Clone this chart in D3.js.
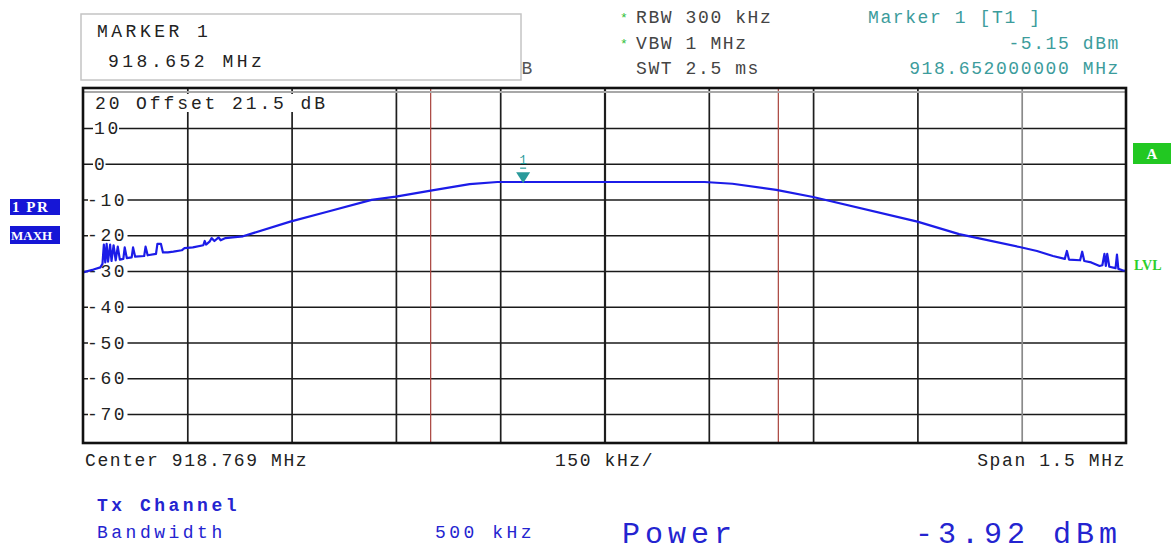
<!DOCTYPE html>
<html>
<head>
<meta charset="utf-8">
<script src="https://cdn.jsdelivr.net/npm/d3@7"></script>
<style>
  body { margin: 0; background: #fff; }
  text { font-family: "Liberation Mono", "DejaVu Sans Mono", monospace; }
</style>
</head>
<body>
<div id="chart"></div>
<script>
// spectrum trace, offsets from center in kHz
const centerMHz = 918.769;
const freqOffsetsKHz = [-750,-735,-725,-722,-720,-718,-716,-714,-711,-709,-706,-703,-700,-697,-692,
  -690,-687,-680,-678,-675,-662,-660,-657,-645,-643,-638,-635,-628,-620,-608,-604,-592,-577,-575,-573,
  -568,-565,-561,-555,-552,-545,-535,-520,-452,-400,-335,-300,-250,-194,-154,-100,-50,0,50,100,
  144,184,247,300,450,510,597,622,645,662,665,668,684,687,690,700,712,716,719,721,723,726,735,737,739,745,750];
const levelsDbm = [-30.4,-29.6,-29.0,-28.0,-22.6,-27.6,-22.4,-27.4,-22.6,-27.2,-22.8,-27.0,-23.2,-26.8,-26.6,
  -23.4,-26.4,-26.2,-23.4,-26.0,-25.8,-23.2,-25.6,-25.2,-22.4,-22.4,-24.8,-24.8,-24.6,-24.2,-23.6,-23.4,-22.8,-21.6,-22.6,
  -21.8,-20.8,-21.6,-20.6,-21.4,-20.8,-20.6,-20.3,-16.2,-13.5,-10.1,-9.2,-7.5,-5.7,-5.1,-5.1,-5.1,-5.1,-5.1,-5.1,
  -5.1,-5.6,-7.3,-9.3,-16.2,-19.7,-23.3,-24.4,-25.8,-26.6,-24.4,-26.8,-27.0,-24.6,-27.2,-27.6,-28.6,-28.4,-25.2,-28.6,-25.2,-28.8,-29.2,-25.4,-29.4,-29.8,-30.0];
const yTicks = [10, 0, -10, -20, -30, -40, -50, -60, -70];
const xGridKHz = [-600, -450, -300, -150, 0, 150, 300, 450, 600];
const channelEdgesKHz = [-250, 250];
const markerMHz = 918.652;
const markerDbm = -5.15;

const W = 1171, H = 553;
const plot = {left: 83, right: 1126, top: 88, bottom: 443};

const svg = d3.select('#chart').append('svg')
  .attr('width', W).attr('height', H);

const x = d3.scaleLinear().domain([-750, 750]).range([plot.left, plot.right]);
const y = d3.scaleLinear().domain([10, -70]).range([128, 414]);

const data = freqOffsetsKHz.map((f, i) => ({f, v: levelsDbm[i]}));

// grid
svg.append('g')
  .attr('transform', `translate(${plot.left},0)`)
  .call(d3.axisLeft(y).tickValues(yTicks).tickSize(-(plot.right - plot.left)).tickFormat(''))
  .call(g => g.select('.domain').remove())
  .call(g => g.selectAll('line').attr('stroke', '#1a1a1a').attr('stroke-width', 1.6));

svg.append('g')
  .attr('transform', `translate(0,${plot.bottom})`)
  .call(d3.axisBottom(x).tickValues(xGridKHz).tickSize(-(plot.bottom - plot.top)).tickFormat(''))
  .call(g => g.select('.domain').remove())
  .call(g => g.selectAll('line')
    .attr('stroke', d => d === 600 ? '#8a8a8a' : '#1e1e1e')
    .attr('stroke-width', d => d === 0 ? 2.2 : 1.7));

// channel limits
svg.selectAll('.chan').data(channelEdgesKHz).join('line')
  .attr('x1', d => x(d)).attr('x2', d => x(d))
  .attr('y1', plot.top).attr('y2', plot.bottom)
  .attr('stroke', '#a8413a').attr('stroke-width', 1.2);

// y labels with white gap in the grid line
const lab = svg.append('g').selectAll('g').data(yTicks).join('g');
lab.append('rect')
  .attr('x', d => d < 0 ? 88 : 93).attr('y', d => y(d) - 8)
  .attr('width', d => String(d).length * 13.5 - 1).attr('height', 16)
  .attr('fill', '#fff');
lab.append('text')
  .attr('x', d => d < 0 ? 87 : 94).attr('y', d => y(d) + 6)
  .style('font-size', '18px').style('letter-spacing', '2.6px')
  .attr('fill', '#222')
  .text(d => d);

// top label inside plot
svg.append('rect').attr('x', 90).attr('y', 94).attr('width', 240).attr('height', 18).attr('fill', '#fff');
svg.append('text').attr('x', 95).attr('y', 109)
  .style('font-size', '18px').style('letter-spacing', '2.9px').attr('fill', '#222')
  .text('20 Offset 21.5 dB');

// trace
const line = d3.line().x(d => x(d.f)).y(d => y(d.v));
svg.append('path').datum(data)
  .attr('d', line)
  .attr('fill', 'none')
  .attr('stroke', '#1c1ce8')
  .attr('stroke-width', 2.2)
  .attr('stroke-linejoin', 'round');

// marker
const mx = x((markerMHz - centerMHz) * 1000), my = y(markerDbm);
svg.append('path')
  .attr('d', `M${mx - 7},${my - 10}L${mx + 7},${my - 10}L${mx},${my + 1}Z`)
  .attr('fill', '#2a9a9a');
svg.append('text').attr('x', mx).attr('y', my - 18).attr('text-anchor', 'middle')
  .style('font-size', '12px').attr('fill', '#2a9a9a').text('1');
svg.append('line').attr('x1', mx - 3).attr('x2', mx + 3).attr('y1', my - 14).attr('y2', my - 14)
  .attr('stroke', '#2a9a9a').attr('stroke-width', 1.2);

// frame
svg.append('line').attr('x1', plot.left).attr('x2', plot.right).attr('y1', plot.top + 4).attr('y2', plot.top + 4)
  .attr('stroke', '#a8a8a8').attr('stroke-width', 2);
svg.append('rect')
  .attr('x', plot.left).attr('y', plot.top)
  .attr('width', plot.right - plot.left).attr('height', plot.bottom - plot.top)
  .attr('fill', 'none').attr('stroke', '#111').attr('stroke-width', 2.6);

// hidden header text under the marker box
svg.append('text').attr('x', 534).attr('y', 74).attr('text-anchor', 'end')
  .style('font-size', '18px').style('letter-spacing', '1.6px').attr('fill', '#555').text('dB');

// marker box
svg.append('rect').attr('x', 81).attr('y', 14).attr('width', 440).attr('height', 66)
  .attr('fill', '#fff').attr('stroke', '#c4c4c4').attr('stroke-width', 1.5);
svg.append('text').attr('x', 97).attr('y', 37)
  .style('font-size', '18px').style('letter-spacing', '3.5px').attr('fill', '#222').text('MARKER 1');
svg.append('text').attr('x', 108).attr('y', 67)
  .style('font-size', '18px').style('letter-spacing', '3.5px').attr('fill', '#222').text('918.652 MHz');

// settings
const settings = [['*', 'RBW 300 kHz', 23], ['*', 'VBW 1 MHz', 49], ['', 'SWT 2.5 ms', 74]];
settings.forEach(([star, t, yy]) => {
  if (star) svg.append('text').attr('x', 620).attr('y', yy - 1)
    .style('font-size', '13px').attr('fill', '#2fbf3a').text(star);
  svg.append('text').attr('x', 636).attr('y', yy)
    .style('font-size', '18px').style('letter-spacing', '1.6px').attr('fill', '#444').text(t);
});

// marker readout
const teal = '#3c9c9c';
svg.append('text').attr('x', 868).attr('y', 23)
  .style('font-size', '18px').style('letter-spacing', '1.6px').attr('fill', teal).text('Marker 1 [T1 ]');
svg.append('text').attr('x', 1120).attr('y', 49).attr('text-anchor', 'end')
  .style('font-size', '18px').style('letter-spacing', '1.6px').attr('fill', teal).text('-5.15 dBm');
svg.append('text').attr('x', 1120).attr('y', 74).attr('text-anchor', 'end')
  .style('font-size', '18px').style('letter-spacing', '1.6px').attr('fill', teal).text('918.652000000 MHz');

// side labels
const blueBox = '#1616d6';
svg.append('rect').attr('x', 10).attr('y', 199).attr('width', 50).attr('height', 16).attr('fill', blueBox);
svg.append('text').attr('x', 12).attr('y', 212).style('font-family', '"Liberation Serif", serif')
  .style('font-size', '15px').style('font-weight', 'bold').style('letter-spacing', '1.5px')
  .attr('fill', '#fff').text('1 PR');
svg.append('rect').attr('x', 10).attr('y', 226).attr('width', 50).attr('height', 18).attr('fill', blueBox);
svg.append('text').attr('x', 11).attr('y', 240).style('font-family', '"Liberation Serif", serif')
  .style('font-size', '13px').style('font-weight', 'bold').attr('fill', '#fff').text('MAXH');

svg.append('rect').attr('x', 1133).attr('y', 143).attr('width', 38).attr('height', 21).attr('fill', '#22c822');
svg.append('text').attr('x', 1152).attr('y', 159).attr('text-anchor', 'middle')
  .style('font-family', '"Liberation Serif", serif').style('font-size', '15px').style('font-weight', 'bold')
  .attr('fill', '#fff').text('A');
svg.append('text').attr('x', 1134).attr('y', 270)
  .style('font-family', '"Liberation Serif", serif').style('font-size', '14px').style('font-weight', 'bold')
  .attr('fill', '#2ccf2c').text('LVL');

// bottom axis texts
svg.append('text').attr('x', 85).attr('y', 466)
  .style('font-size', '18px').style('letter-spacing', '1.6px').attr('fill', '#222').text('Center 918.769 MHz');
svg.append('text').attr('x', x(0)).attr('y', 466).attr('text-anchor', 'middle')
  .style('font-size', '18px').style('letter-spacing', '1.6px').attr('fill', '#222').text('150 kHz/');
svg.append('text').attr('x', 1126).attr('y', 466).attr('text-anchor', 'end')
  .style('font-size', '18px').style('letter-spacing', '1.6px').attr('fill', '#222').text('Span 1.5 MHz');

// channel power readout
const blueText = '#2424d0';
svg.append('text').attr('x', 97).attr('y', 511)
  .style('font-size', '18px').style('letter-spacing', '3.5px').style('font-weight', 'bold')
  .attr('fill', blueText).text('Tx Channel');
svg.append('text').attr('x', 97).attr('y', 538)
  .style('font-size', '18px').style('letter-spacing', '3.5px').attr('fill', blueText).text('Bandwidth');
svg.append('text').attr('x', 435).attr('y', 538)
  .style('font-size', '18px').style('letter-spacing', '3.5px').attr('fill', blueText).text('500 kHz');
svg.append('text').attr('x', 622).attr('y', 543)
  .style('font-size', '30px').style('letter-spacing', '5px').attr('fill', blueText).text('Power');
svg.append('text').attr('x', 1122).attr('y', 543).attr('text-anchor', 'end')
  .style('font-size', '30px').style('letter-spacing', '5px').attr('fill', blueText).text('-3.92 dBm');
</script>
</body>
</html>
